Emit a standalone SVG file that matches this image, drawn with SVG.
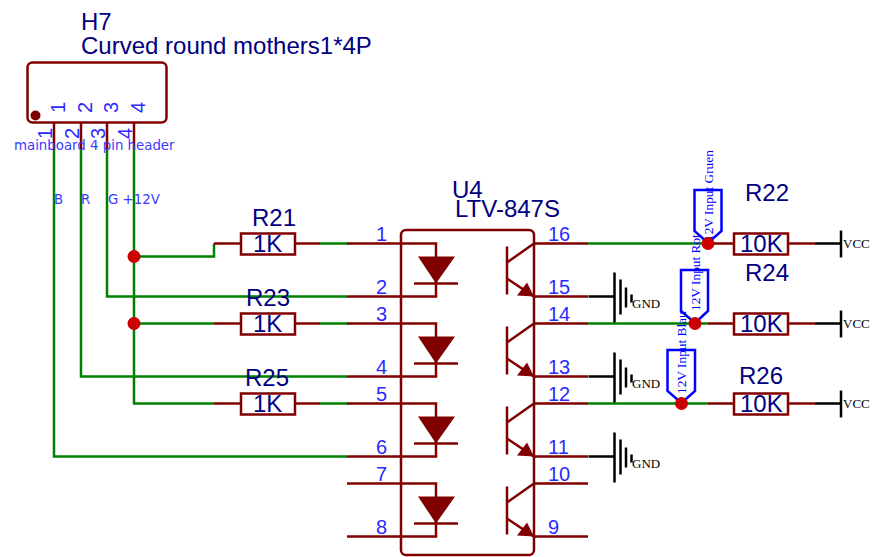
<svg xmlns="http://www.w3.org/2000/svg" width="874" height="557" viewBox="0 0 874 557">
<style>
.p{stroke:#800000;stroke-width:2.5;fill:none}
.g{stroke:#008000;stroke-width:2.5;fill:none}
.k{stroke:#000;stroke-width:2.5;fill:none}
.body{stroke:#800000;stroke-width:2.5;fill:#fff}
.tri{fill:#800000;stroke:none}
.dot{fill:#cc0000}
.flag{stroke:#0000ff;stroke-width:2.5;fill:none}
text{font-family:"Liberation Sans",Arial,sans-serif}
.name{font-size:24px;fill:#000080}
.pin{font-size:20px;fill:#2a2aff}
.small{font-family:"DejaVu Sans",sans-serif;font-size:13.33px;fill:#3a3aff}
.ser{font-family:"Liberation Serif","Times New Roman",serif;font-size:13px;fill:#000}
.fl{font-family:"Liberation Serif","Times New Roman",serif;font-size:13.33px;fill:#0000ff}
</style>
<defs>
<g id="res"><rect class="body" x="-27" y="-10" width="54" height="21"/></g>
<g id="gnd"><path class="k" d="M-26 0H0M0-24V26M6-17V18M11.500-9V11M17-2V6"/></g>
<g id="diode"><path class="p" d="M-89 0H0V53H-89M-22 40H22"/><path class="tri" d="M-18 13H19L0 40Z"/></g>
<g id="bjt"><path class="p" d="M-27 3V51M-27 19L0 0M-27 35L0 53H54M0 0H54"/><path class="tri" d="M0 53L-17 52L-7 39Z"/></g>
<g id="vcc"><path class="p" d="M-27 0H0"/><path class="k" d="M0 0H27M26-13V14"/></g>
</defs>
<g id="connectors">
<path class="p" d="M54 123V150M81 123V150M107 123V150M134 123V150"/>
<path class="g" d="M54 150V456.500H347M81 150V376.500H347M107 150V296.500H347M134 150V403.500H214M134 256.500H214V243.500M134 323.500H214M320 243.500H348M320 323.500H348M320 403.500H348M588 243.500H708M588 323.500H708M588 403.500H708"/>
<path class="p" d="M214 243.500H241M295 243.500H320M214 323.500H241M295 323.500H320M214 403.500H241M295 403.500H320M708 243.500H734M708 323.500H734M708 403.500H734"/>
</g>
<g id="H7">
<rect class="p" x="27.500" y="62.500" width="139" height="60" rx="5"/>
<circle cx="35.500" cy="115.500" r="5" fill="#800000"/>
<text class="name" x="81" y="30">H7</text>
<text class="name" x="81" y="54">Curved round mothers1*4P</text>
<text class="pin" transform="translate(65 113) rotate(-90)">1</text>
<text class="pin" transform="translate(92 113) rotate(-90)">2</text>
<text class="pin" transform="translate(118 113) rotate(-90)">3</text>
<text class="pin" transform="translate(145 113) rotate(-90)">4</text>
<text class="pin" transform="translate(52 139) rotate(-90)">1</text>
<text class="pin" transform="translate(79 139) rotate(-90)">2</text>
<text class="pin" transform="translate(105 139) rotate(-90)">3</text>
<text class="pin" transform="translate(132 139) rotate(-90)">4</text>
<text class="small" x="14" y="150">mainboard 4 pin header</text>
<text class="small" x="54" y="204">B</text>
<text class="small" x="81" y="204">R</text>
<text class="small" x="108" y="204">G +12V</text>
</g>
<g id="R21"><use href="#res" x="268" y="243.500"/><text class="name" x="252" y="226">R21</text><text class="name" x="253" y="252">1K</text></g>
<g id="R23"><use href="#res" x="268" y="323.500"/><text class="name" x="246" y="306">R23</text><text class="name" x="253" y="332">1K</text></g>
<g id="R25"><use href="#res" x="268" y="403.500"/><text class="name" x="245" y="386">R25</text><text class="name" x="253" y="412">1K</text></g>
<g id="U4">
<rect class="p" x="401" y="230" width="133" height="325" rx="5"/>
<use href="#diode" x="436" y="243.500"/><use href="#diode" x="436" y="323.500"/><use href="#diode" x="436" y="403.500"/><use href="#diode" x="436" y="483.500"/>
<use href="#bjt" x="534" y="243.500"/><use href="#bjt" x="534" y="323.500"/><use href="#bjt" x="534" y="403.500"/><use href="#bjt" x="534" y="483.500"/>
<text class="name" x="452" y="198">U4</text>
<text class="name" x="455" y="217">LTV-847S</text>
<text class="pin" x="376" y="241">1</text><text class="pin" x="376" y="294">2</text><text class="pin" x="376" y="321">3</text><text class="pin" x="376" y="374">4</text>
<text class="pin" x="376" y="401">5</text><text class="pin" x="376" y="454">6</text><text class="pin" x="376" y="481">7</text><text class="pin" x="376" y="534">8</text>
<text class="pin" x="548" y="241">16</text><text class="pin" x="548" y="294">15</text><text class="pin" x="548" y="321">14</text><text class="pin" x="548" y="374">13</text>
<text class="pin" x="548" y="401">12</text><text class="pin" x="548" y="454">11</text><text class="pin" x="548" y="481">10</text><text class="pin" x="548" y="534">9</text>
</g>
<g id="GND1"><use href="#gnd" x="614.500" y="296.500"/><text class="ser" x="632" y="308">GND</text></g>
<g id="GND2"><use href="#gnd" x="614.500" y="376.500"/><text class="ser" x="632" y="388">GND</text></g>
<g id="GND3"><use href="#gnd" x="614.500" y="456.500"/><text class="ser" x="632" y="468">GND</text></g>
<g id="FlagGruen"><path class="flag" d="M694.500 190H721.500V231L708 243L694.500 231Z"/><text class="fl" transform="translate(713 241) rotate(-90)">12V Input Gruen</text><circle class="dot" cx="708" cy="243.500" r="6.500"/></g>
<g id="FlagRot"><path class="flag" d="M681 270H708V311L695 323L681 311Z"/><text class="fl" transform="translate(700 311) rotate(-90)">12V Input Rot</text><circle class="dot" cx="695" cy="323.500" r="6.500"/></g>
<g id="FlagBlau"><path class="flag" d="M667.500 350H695V391L681.500 403L667.500 391Z"/><text class="fl" transform="translate(686 394) rotate(-90)">12V Input Blau</text><circle class="dot" cx="681.500" cy="403.500" r="6.500"/></g>
<circle class="dot" cx="134" cy="256.500" r="6.500"/><circle class="dot" cx="134" cy="323.500" r="6.500"/>
<g id="R22"><use href="#res" x="761" y="243.500"/><text class="name" x="745" y="201">R22</text><text class="name" x="740" y="252">10K</text><use href="#vcc" x="815" y="243.500"/><text class="ser" x="843" y="248">VCC</text></g>
<g id="R24"><use href="#res" x="761" y="323.500"/><text class="name" x="745" y="281">R24</text><text class="name" x="740" y="332">10K</text><use href="#vcc" x="815" y="323.500"/><text class="ser" x="843" y="328">VCC</text></g>
<g id="R26"><use href="#res" x="761" y="403.500"/><text class="name" x="739" y="384">R26</text><text class="name" x="740" y="412">10K</text><use href="#vcc" x="815" y="403.500"/><text class="ser" x="843" y="408">VCC</text></g>
</svg>
